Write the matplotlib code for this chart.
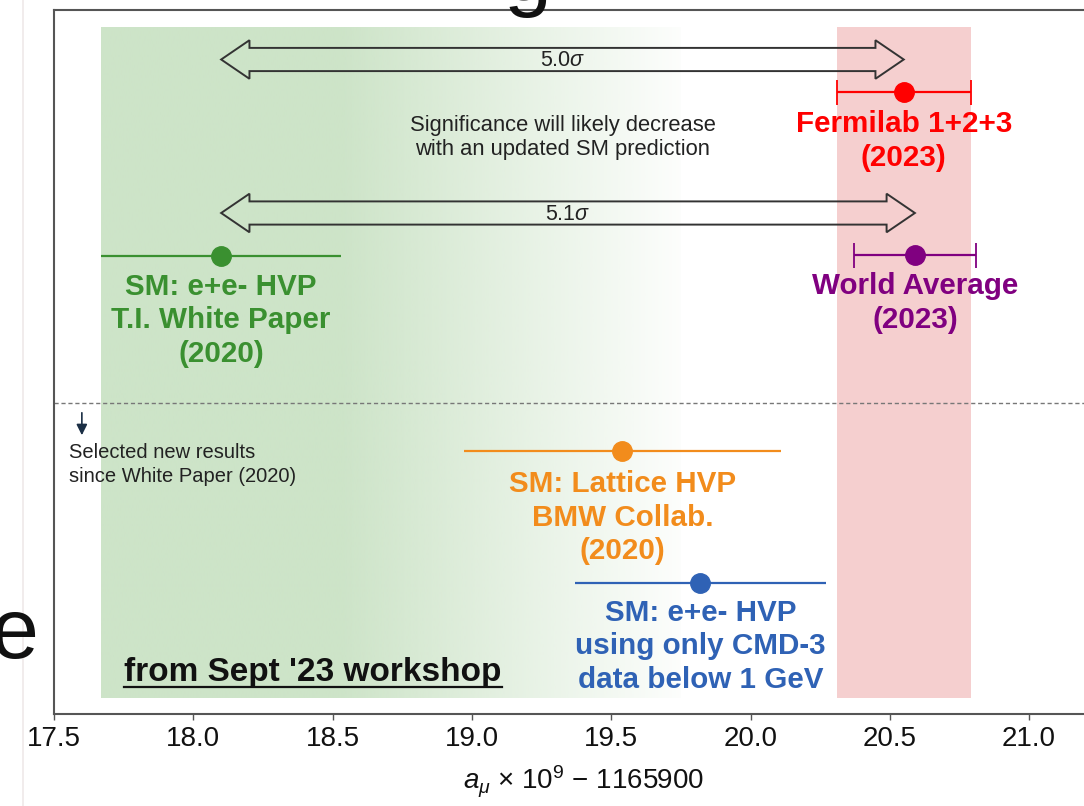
import numpy as np
import matplotlib
matplotlib.use("Agg")
import matplotlib.pyplot as plt
from matplotlib.patches import Polygon, Rectangle
from matplotlib.lines import Line2D
from matplotlib.colors import to_rgb

plt.rcParams['font.family'] = ['Liberation Sans', 'DejaVu Sans']
plt.rcParams['mathtext.fontset'] = 'custom'
plt.rcParams['mathtext.rm'] = 'Liberation Sans'
plt.rcParams['mathtext.it'] = 'Liberation Sans:italic'

# ---------------- data ----------------
names = ["Fermilab", "WA", "SM_WP", "BMW", "CMD3"]
centers = [20.55, 20.59, 18.10, 19.54, 19.82]
errors = [0.24, 0.22, 0.43, 0.57, 0.45]
colors = ["#ff0000", "#800080", "#3a9030", "#f28c1c", "#2f62b5"]
capped = [True, True, False, False, False]
labels = [
    ["Fermilab 1+2+3", "(2023)"],
    ["World Average", "(2023)"],
    ["SM: e+e- HVP", "T.I. White Paper", "(2020)"],
    ["SM: Lattice HVP", "BMW Collab.", "(2020)"],
    ["SM: e+e- HVP", "using only CMD-3", "data below 1 GeV"],
]
green_fade_end = 19.75
arrow_texts = [r"5.0$\sigma$", r"5.1$\sigma$"]
xticks = [17.5, 18.0, 18.5, 19.0, 19.5, 20.0, 20.5, 21.0]
xlim = (17.5, 21.3)

# layout (axes-fraction y positions)
def yf(py):
    return (714 - py) / 704.0

point_y = [yf(92), yf(255), yf(256), yf(451), yf(583)]
label_y0 = [yf(124), yf(286), yf(287), yf(484), yf(613)]
line_step = 33.5 / 704.0

fig = plt.figure(figsize=(10.84, 8.06), dpi=100)
ax = fig.add_axes([54 / 1084, 92 / 806, 1058.7 / 1084, 704 / 806])
ax.set_xlim(*xlim)
ax.set_ylim(0, 1)

band_bot, band_top = yf(698), yf(27)

# pink band (Fermilab)
i_f = 0
ax.add_patch(Rectangle((centers[i_f] - errors[i_f], band_bot), 2 * errors[i_f], band_top - band_bot,
                       facecolor="#f5cfcf", edgecolor="none", zorder=0))
# green gradient band (SM WP)
i_g = 2
g0, g1 = centers[i_g] - errors[i_g], centers[i_g] + errors[i_g]
xs = np.linspace(g0, green_fade_end, 400)
alpha = np.clip(1 - (xs - g1) / (green_fade_end - g1), 0.0, 1.0) * 0.95 + 0.05
alpha[xs <= g1] = 1.0
rgb = np.array(to_rgb("#cde4c8"))
img = np.zeros((1, len(xs), 4))
img[0, :, :3] = rgb
img[0, :, 3] = alpha
ax.imshow(img, extent=[g0, green_fade_end, band_bot, band_top], aspect="auto", zorder=0,
          interpolation="bilinear")

# dashed separator
ax.axhline(yf(403), color="#777777", lw=1.0, ls=(0, (3, 2)), zorder=1)

# double arrows
def darrow(x0, x1, yc, text):
    hl = 28.3 / 278.6
    hh = 19.3 / 704.0
    sh = 11.6 / 704.0
    pts = [(x0, yc), (x0 + hl, yc + hh), (x0 + hl, yc + sh), (x1 - hl, yc + sh), (x1 - hl, yc + hh),
           (x1, yc), (x1 - hl, yc - hh), (x1 - hl, yc - sh), (x0 + hl, yc - sh), (x0 + hl, yc - hh)]
    ax.add_patch(Polygon(pts, closed=True, facecolor="none", edgecolor="#333333", lw=1.4, zorder=3))
    ax.text((x0 + x1) / 2, yc - 1.0 / 704, text, ha="center", va="center", fontsize=15.5, color="#222222",
            zorder=4)

darrow(centers[2], centers[0], yf(59.5), arrow_texts[0])
darrow(centers[2], centers[1], yf(213), arrow_texts[1])

ax.text(np.mean([centers[2], centers[0]]), yf(125), "Significance will likely decrease",
        ha="center", va="center", fontsize=15.8, color="#222222")
ax.text(np.mean([centers[2], centers[0]]), yf(149), "with an updated SM prediction",
        ha="center", va="center", fontsize=15.8, color="#222222")

# points
for c, e, col, cap, py, lab, ly in zip(centers, errors, colors, capped, point_y, labels, label_y0):
    ax.errorbar([c], [py], xerr=[e], fmt="o", color=col, ms=14, elinewidth=1.6,
                capsize=9 if cap else 0, capthick=1.3, zorder=5)
    for k, line in enumerate(lab):
        ax.text(c, ly - k * line_step, line, ha="center", va="center", fontsize=21.3,
                fontweight="bold", color=col, zorder=6)

# small arrow + note
ax.annotate("", xy=(17.6, yf(438)), xytext=(17.6, yf(410)),
            arrowprops=dict(arrowstyle="-|>", color="#1b2f45", lw=1.2, mutation_scale=16,
                            facecolor="#2a6db5"))
ax.text(17.554, yf(453), "Selected new results", ha="left", va="center", fontsize=14.5, color="#222222")
ax.text(17.554, yf(476), "since White Paper (2020)", ha="left", va="center", fontsize=14.5, color="#222222")

# workshop note (underlined)
wt = ax.text(18.43, yf(672), "from Sept '23 workshop", ha="center", va="center", fontsize=24,
             fontweight="bold", color="#111111", zorder=6)

# axes styling
for s in ["left", "bottom", "top"]:
    ax.spines[s].set_color("#555555")
    ax.spines[s].set_linewidth(1.5)
ax.spines["right"].set_visible(False)
ax.set_yticks([])
ax.set_xticks(xticks)
ax.set_xticklabels([f"{t:.1f}" for t in xticks])
ax.tick_params(axis="x", direction="out", length=4, width=1, colors="#555555", labelsize=20,
               labelcolor="#111111", pad=5)
ax.set_xlabel(r"$a_\mu$ × 10$^{9}$ − 1165900", fontsize=20, color="#111111", labelpad=8)

# slide remnants
fig.add_artist(Line2D([23 / 1084, 23 / 1084], [0, 1], color="#efe9e9", lw=1.2))
fig.text(38 / 1084, (806 - 636) / 806, "e", ha="right", va="center", fontsize=62, color="#111111")
fig.text(527 / 1084, 1.0, "g", ha="center", va="baseline", fontsize=62, color="#111111")

fig.canvas.draw()
bb = wt.get_window_extent()
fig.add_artist(Line2D([bb.x0 / 1084, bb.x1 / 1084], [(bb.y0 + 1) / 806] * 2, color="#111111", lw=1.6))

fig.savefig("out.png", dpi=100)
